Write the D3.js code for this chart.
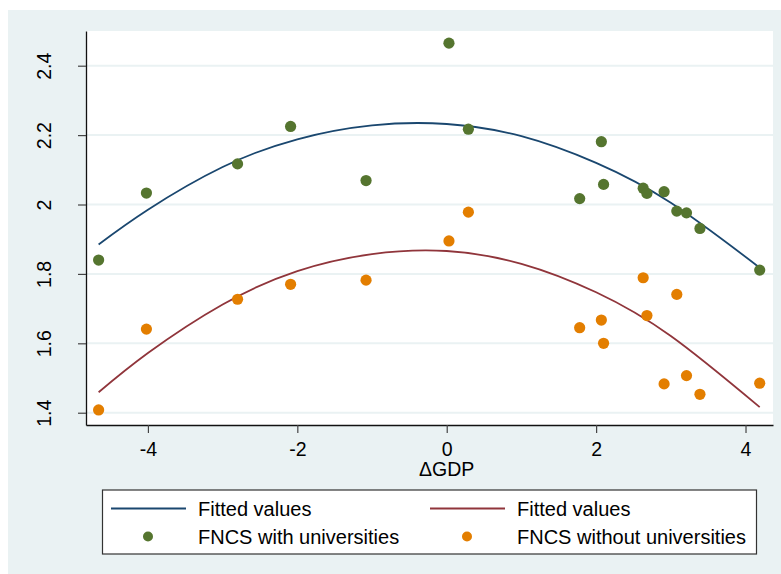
<!DOCTYPE html>
<html>
<head>
<meta charset="utf-8">
<script src="https://cdn.jsdelivr.net/npm/d3@7"></script>
<style>
  body { margin: 0; background: #fff; }
  text { font-family: "Liberation Sans", Arial, sans-serif; fill: #000; }
</style>
</head>
<body>
<div class="container"></div>
<script>
// change in GDP, shared by both groups
var gdp = [-4.66, -4.02, -2.80, -2.09, -1.08, 0.03, 0.29, 1.78, 2.07, 2.10,
  2.63, 2.68, 2.91, 3.08, 3.21, 3.39, 4.19];
var withUni = [1.840, 2.033, 2.117, 2.225, 2.069, 2.465, 2.217, 2.017, 2.181, 2.058,
  2.047, 2.032, 2.037, 1.981, 1.976, 1.931, 1.811];
var withoutUni = [1.408, 1.641, 1.727, 1.770, 1.782, 1.895, 1.978, 1.645, 1.667, 1.600,
  1.789, 1.680, 1.483, 1.741, 1.507, 1.453, 1.485];

// fitted (quadratic) curves
var fitX = [-4.66, -4, -3, -2, -1, 0, 1, 2, 3, 4.19];
var fitWith = [1.885, 1.985, 2.108, 2.188, 2.228, 2.232, 2.197, 2.120, 2.005, 1.818];
var fitWithout = [1.459, 1.572, 1.712, 1.808, 1.857, 1.866, 1.829, 1.747, 1.621, 1.416];

var xTicks = [-4, -2, 0, 2, 4];
var yTicks = [1.4, 1.6, 1.8, 2, 2.2, 2.4];
var legendLabels = ["Fitted values", "Fitted values", "FNCS with universities", "FNCS without universities"];

var W = 781, H = 574;
var plot = { left: 86, top: 31, right: 773, bottom: 425 };
var colors = { navy: "#1a476f", maroon: "#90353b", green: "#55752f", orange: "#e37e00" };

var svg = d3.select(".container").append("svg")
  .attr("width", W).attr("height", H);

// graph region + plot region
svg.append("rect").attr("x", 8).attr("y", 10).attr("width", W - 8).attr("height", H - 10)
  .attr("fill", "#eaf2f3");
svg.append("rect").attr("x", plot.left).attr("y", plot.top)
  .attr("width", plot.right - plot.left).attr("height", plot.bottom - plot.top)
  .attr("fill", "#fff");

var x = d3.scaleLinear().domain([-4.829, 4.368]).range([plot.left, plot.right]);
var y = d3.scaleLinear().domain([1.3646, 2.5]).range([plot.bottom, plot.top]);

// gridlines
svg.append("g").selectAll("line").data(yTicks).enter().append("line")
  .attr("x1", plot.left).attr("x2", plot.right)
  .attr("y1", d => y(d)).attr("y2", d => y(d))
  .attr("stroke", "#eaf2f3").attr("stroke-width", 2);

// fitted lines
var line = d3.line().curve(d3.curveNatural)
  .x(d => x(d[0])).y(d => y(d[1]));

[[fitWith, colors.navy], [fitWithout, colors.maroon]].forEach(function (s) {
  svg.append("path")
    .datum(fitX.map((v, i) => [v, s[0][i]]))
    .attr("d", line)
    .attr("fill", "none")
    .attr("stroke", s[1])
    .attr("stroke-width", 1.8);
});

// scatter points
[[withUni, colors.green], [withoutUni, colors.orange]].forEach(function (s) {
  svg.append("g").selectAll("circle").data(s[0]).enter().append("circle")
    .attr("cx", (d, i) => x(gdp[i]))
    .attr("cy", d => y(d))
    .attr("r", 5.6)
    .attr("fill", s[1]);
});

// axes
var yAxis = svg.append("g")
  .attr("transform", `translate(${plot.left},0)`)
  .call(d3.axisLeft(y).tickValues(yTicks).tickSize(8).tickSizeOuter(0).tickFormat(d => d));
yAxis.selectAll(".tick text")
  .attr("x", 0).attr("dy", 0)
  .attr("text-anchor", "middle")
  .attr("transform", "translate(-35,0) rotate(-90)");

var xAxis = svg.append("g")
  .attr("transform", `translate(0,${plot.bottom})`)
  .call(d3.axisBottom(x).tickValues(xTicks).tickSize(8).tickSizeOuter(0).tickPadding(9).tickFormat(d => d));

[yAxis, xAxis].forEach(function (a) {
  a.select(".domain").attr("stroke", "#111").attr("stroke-width", 1.3);
  a.selectAll(".tick line").attr("stroke", "#444").attr("stroke-width", 1.2);
  a.selectAll(".tick text").style("font-size", "19.5px").attr("fill", "#000")
    .style("font-family", '"Liberation Sans", Arial, sans-serif');
});

svg.append("text")
  .attr("x", x(0)).attr("y", 476)
  .attr("text-anchor", "middle")
  .style("font-size", "19.5px")
  .text("\u0394GDP");

// legend
var legend = svg.append("g");
legend.append("rect")
  .attr("x", 102.5).attr("y", 490).attr("width", 654).attr("height", 64)
  .attr("fill", "#fff").attr("stroke", "#333").attr("stroke-width", 1.2);

var keys = [
  { type: "line", color: colors.navy, col: 0, row: 0 },
  { type: "line", color: colors.maroon, col: 1, row: 0 },
  { type: "dot", color: colors.green, col: 0, row: 1 },
  { type: "dot", color: colors.orange, col: 1, row: 1 }
];
var colX = [111, 430];
var rowY = [508.5, 536.5];

keys.forEach(function (k, i) {
  var x0 = colX[k.col], y0 = rowY[k.row];
  if (k.type === "line") {
    legend.append("line").attr("x1", x0).attr("x2", x0 + 75)
      .attr("y1", y0).attr("y2", y0)
      .attr("stroke", k.color).attr("stroke-width", 1.8);
  } else {
    legend.append("circle").attr("cx", x0 + 37).attr("cy", y0).attr("r", 5)
      .attr("fill", k.color);
  }
  legend.append("text")
    .attr("x", x0 + 87).attr("y", y0).attr("dy", "0.35em")
    .style("font-size", "20px")
    .text(legendLabels[i]);
});
</script>
</body>
</html>
